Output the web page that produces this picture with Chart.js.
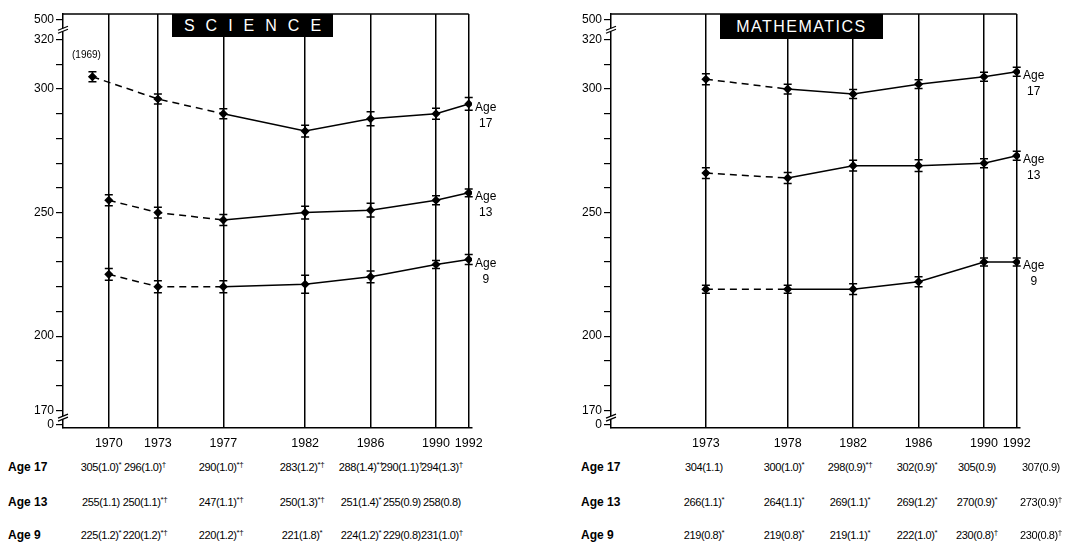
<!DOCTYPE html>
<html>
<head>
<meta charset="utf-8">
<script src="https://cdn.jsdelivr.net/npm/chart.js@4.4.1/dist/chart.umd.min.js"></script>
<style>
  body { margin: 0; background: #fff; }
  #wrap { position: relative; width: 1072px; height: 546px; overflow: hidden;
          font-family: "Liberation Sans", Arial, sans-serif; color: #000; }
  canvas { position: absolute; top: 0; }
  .title { position: absolute; background: #000; color: #fff; font-size: 16px;
           display: flex; align-items: center; justify-content: center; }
  .cell { position: absolute; white-space: nowrap; font-size: 11px; letter-spacing: -0.4px;
          transform: translate(-50%, -50%); }
  .cell sup { font-size: 8px; vertical-align: 4px; line-height: 0; }
  .rowlab { position: absolute; white-space: nowrap; font-size: 12px; font-weight: bold; transform: translateY(-50%); }
  .agelab { position: absolute; width: 26px; text-align: center; font-size: 12px; line-height: 16px; }
  .note { position: absolute; font-size: 10px; white-space: nowrap; transform: translateX(-50%); }
</style>
</head>
<body>
<div id="wrap">
  <canvas id="sci" width="530" height="456" style="left:0"></canvas>
  <canvas id="math" width="524" height="456" style="left:548px"></canvas>
  <div class="title" style="left:172px;top:14px;width:161px;height:23px;letter-spacing:11px;padding-left:11px;box-sizing:border-box">SCIENCE</div>
  <div class="title" style="left:720px;top:14px;width:163px;height:25px;letter-spacing:1.5px">MATHEMATICS</div>
</div>
<script>
// science
const sciYears = [1970, 1973, 1977, 1982, 1986, 1990, 1992];
const sciAge17Years = [1969, 1973, 1977, 1982, 1986, 1990, 1992];
const sciAge17 = [305, 296, 290, 283, 288, 290, 294];
const sciAge17SE = [1.0, 1.0, 1.0, 1.2, 1.4, 1.1, 1.3];
const sciAge17Marks = ["*", "†", "*†", "*†", "*†", "†", "†"];
const sciAge13 = [255, 250, 247, 250, 251, 255, 258];
const sciAge13SE = [1.1, 1.1, 1.1, 1.3, 1.4, 0.9, 0.8];
const sciAge13Marks = ["", "*†", "*†", "*†", "*", "", ""];
const sciAge9 = [225, 220, 220, 221, 224, 229, 231];
const sciAge9SE = [1.2, 1.2, 1.2, 1.8, 1.2, 0.8, 1.0];
const sciAge9Marks = ["*", "*†", "*†", "*", "*", "", "†"];

// mathematics
const mathYears = [1973, 1978, 1982, 1986, 1990, 1992];
const mathAge17 = [304, 300, 298, 302, 305, 307];
const mathAge17SE = [1.1, 1.0, 0.9, 0.9, 0.9, 0.9];
const mathAge17Marks = ["", "*", "*†", "*", "", ""];
const mathAge13 = [266, 264, 269, 269, 270, 273];
const mathAge13SE = [1.1, 1.1, 1.1, 1.2, 0.9, 0.9];
const mathAge13Marks = ["*", "*", "*", "*", "*", "†"];
const mathAge9 = [219, 219, 219, 222, 230, 230];
const mathAge9SE = [0.8, 0.8, 1.1, 1.0, 0.8, 0.8];
const mathAge9Marks = ["*", "*", "*", "*", "†", "†"];

// y axis (broken: 0 and 500 shown at the ends)
const yTickValues = [164, 170, 180, 190, 200, 210, 220, 230, 240, 250, 260, 270, 280, 290, 300, 310, 320, 328];
const yTickLabels = { 164: "0", 170: "170", 200: "200", 250: "250", 300: "300", 320: "320", 328: "500" };
const yBreaks = [167, 324];

// layout of the table under each chart
const sciTableX = [101, 145, 221, 302, 361, 402, 442];
const mathTableX = [704, 784, 850, 917, 977, 1041];
const tableRowY = [467, 502, 535];

const FONT = "'Liberation Sans', Arial, sans-serif";
const wrap = document.getElementById("wrap");

const errBars = {
  id: "errBars",
  afterDatasetsDraw(chart) {
    const ctx = chart.ctx, y = chart.scales.y;
    ctx.save();
    ctx.strokeStyle = "#000";
    ctx.lineWidth = 1.5;
    chart.data.datasets.forEach((ds, i) => {
      const meta = chart.getDatasetMeta(i);
      ds.data.forEach((p, j) => {
        const x = meta.data[j].x;
        const top = y.getPixelForValue(p.y + 2 * ds.se[j]);
        const bot = y.getPixelForValue(p.y - 2 * ds.se[j]);
        ctx.beginPath();
        ctx.moveTo(x, top); ctx.lineTo(x, bot);
        ctx.moveTo(x - 4, top); ctx.lineTo(x + 4, top);
        ctx.moveTo(x - 4, bot); ctx.lineTo(x + 4, bot);
        ctx.stroke();
      });
    });
    ctx.restore();
  }
};

const frame = {
  id: "frame",
  afterDraw(chart) {
    const ctx = chart.ctx, a = chart.chartArea, x = chart.scales.x, y = chart.scales.y;
    const last = chart.options.lastYear;
    ctx.save();
    ctx.strokeStyle = "#000";
    ctx.lineWidth = 1.5;
    ctx.beginPath();
    ctx.moveTo(a.left, a.top);
    ctx.lineTo(x.getPixelForValue(last), a.top);
    ctx.stroke();
    yBreaks.forEach(v => {
      const py = y.getPixelForValue(v);
      ctx.fillStyle = "#fff";
      ctx.fillRect(a.left - 2, py - 1.5, 4, 3);
      ctx.lineWidth = 1.2;
      ctx.beginPath();
      ctx.moveTo(a.left - 5, py + 0.5); ctx.lineTo(a.left + 5, py - 3.5);
      ctx.moveTo(a.left - 5, py + 3.5); ctx.lineTo(a.left + 5, py - 0.5);
      ctx.stroke();
    });
    ctx.restore();
  }
};

function series(xs, ys, se, dashEnd) {
  return {
    data: xs.map((x, i) => ({ x: x, y: ys[i] })),
    se: se,
    borderColor: "#000",
    borderWidth: 1.5,
    pointStyle: "rectRot",
    pointRadius: 3.5,
    pointBackgroundColor: "#000",
    pointBorderColor: "#000",
    segment: { borderDash: c => (c.p1DataIndex <= dashEnd ? [7, 5] : []) }
  };
}

function makeChart(id, years, datasets, padRight) {
  return new Chart(document.getElementById(id), {
    type: "line",
    data: { datasets: datasets },
    plugins: [errBars, frame],
    options: {
      lastYear: years[years.length - 1],
      responsive: false,
      animation: false,
      devicePixelRatio: 1,
      layout: { padding: { top: 14, right: padRight, left: 0, bottom: 0 } },
      plugins: { legend: { display: false }, tooltip: { enabled: false } },
      scales: {
        x: {
          type: "linear", min: 1967.2, max: 1992.2,
          afterBuildTicks: s => { s.ticks = years.map(v => ({ value: v })); },
          afterFit: s => { s.height = 28; },
          ticks: { autoSkip: false, maxRotation: 0, padding: 8, color: "#000",
                   font: { family: FONT, size: 12.5 }, callback: v => String(v) },
          grid: { color: "#000", lineWidth: 1.5, drawTicks: false },
          border: { color: "#000", width: 1.5 }
        },
        y: {
          min: 162.8, max: 330.4,
          afterBuildTicks: s => { s.ticks = yTickValues.map(v => ({ value: v })); },
          afterFit: s => { s.width = 63; },
          ticks: { autoSkip: false, padding: 2, color: "#000",
                   font: { family: FONT, size: 12 }, callback: v => yTickLabels[v] || "" },
          grid: { color: "#000", lineWidth: 1.2, drawOnChartArea: false, tickLength: 7 },
          border: { color: "#000", width: 1.5 }
        }
      }
    }
  });
}

function addDiv(cls, html, left, top) {
  const d = document.createElement("div");
  d.className = cls;
  d.innerHTML = html;
  d.style.left = left + "px";
  d.style.top = top + "px";
  wrap.appendChild(d);
  return d;
}

function addTable(rowLabelX, colX, rows) {
  rows.forEach((r, i) => {
    addDiv("rowlab", r.label, rowLabelX, tableRowY[i]);
    r.vals.forEach((v, j) => {
      addDiv("cell", v + "(" + r.se[j].toFixed(1) + ")<sup>" + r.marks[j] + "</sup>", colX[j], tableRowY[i]);
    });
  });
}

function addAgeLabels(chart, offsetX, ages) {
  chart.data.datasets.forEach((ds, i) => {
    const meta = chart.getDatasetMeta(i);
    const p = meta.data[meta.data.length - 1];
    addDiv("agelab", "Age<br>" + ages[i], offsetX + p.x + 4, p.y - 5);
  });
}

const sci = makeChart("sci", sciYears, [
  series(sciAge17Years, sciAge17, sciAge17SE, 2),
  series(sciYears, sciAge13, sciAge13SE, 2),
  series(sciYears, sciAge9, sciAge9SE, 2)
], 58);

const math = makeChart("math", mathYears, [
  series(mathYears, mathAge17, mathAge17SE, 1),
  series(mathYears, mathAge13, mathAge13SE, 1),
  series(mathYears, mathAge9, mathAge9SE, 1)
], 52);

addAgeLabels(sci, 0, [17, 13, 9]);
addAgeLabels(math, 548, [17, 13, 9]);

const p69 = sci.getDatasetMeta(0).data[0];
addDiv("note", "(" + sciAge17Years[0] + ")", p69.x - 6, p69.y - 28);

addTable(8, sciTableX, [
  { label: "Age 17", vals: sciAge17, se: sciAge17SE, marks: sciAge17Marks },
  { label: "Age 13", vals: sciAge13, se: sciAge13SE, marks: sciAge13Marks },
  { label: "Age 9", vals: sciAge9, se: sciAge9SE, marks: sciAge9Marks }
]);
addTable(581, mathTableX, [
  { label: "Age 17", vals: mathAge17, se: mathAge17SE, marks: mathAge17Marks },
  { label: "Age 13", vals: mathAge13, se: mathAge13SE, marks: mathAge13Marks },
  { label: "Age 9", vals: mathAge9, se: mathAge9SE, marks: mathAge9Marks }
]);
</script>
</body>
</html>
